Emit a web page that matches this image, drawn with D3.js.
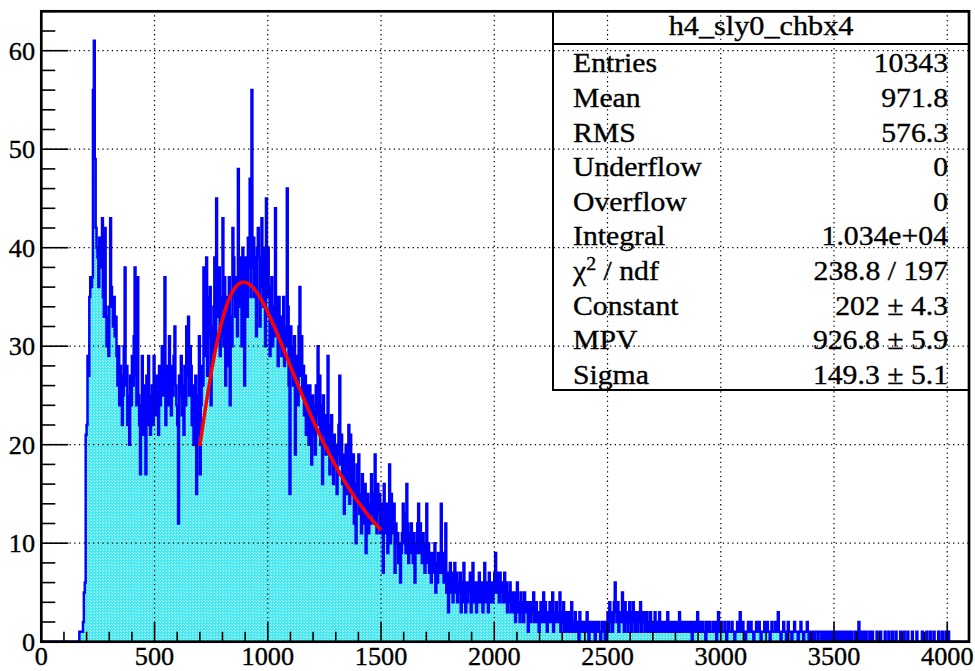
<!DOCTYPE html>
<html><head><meta charset="utf-8">
<script src="https://cdn.jsdelivr.net/npm/d3@7"></script>
<style>body{margin:0;background:#fff} svg{display:block} text{font-family:"Liberation Serif","Times New Roman",serif;fill:#000;stroke:#000;stroke-width:0.35}</style>
</head><body>
<svg id="chart" width="975" height="671"></svg>
<script>
// ---------------- data ----------------
const histTitle = "h4_sly0_chbx4";
const binWidth = 4;
const firstBinLow = 160;          // low edge of counts[0]
const xRange = [0, 4096];
const yRange = [0, 64];
const counts = [
0,0,1,1,1,1,2,5,6,21,
22,29,27,35,37,36,37,56,61,49,
42,40,39,36,41,38,40,43,35,33,
42,34,30,33,29,34,43,36,34,32,
35,31,33,29,26,30,24,28,27,22,
25,30,38,26,28,22,25,20,27,24,
29,26,31,38,27,24,37,25,22,17,
24,29,21,26,23,17,27,22,29,25,
21,24,26,22,29,25,23,27,25,21,
28,24,26,30,25,27,37,22,26,28,
24,31,27,23,28,25,29,32,26,24,
22,12,27,25,29,23,26,21,28,24,
32,27,33,25,30,28,22,26,20,24,
27,15,25,21,31,17,24,28,26,38,
29,33,39,27,35,31,36,24,32,29,
34,39,30,45,36,33,38,29,35,31,
43,30,37,26,33,35,28,37,24,33,
30,42,39,35,33,37,31,48,34,39,
37,30,40,34,26,39,36,33,41,38,
47,35,56,38,41,35,39,31,40,42,
39,32,36,43,38,34,40,30,45,35,
40,36,29,33,37,30,34,31,44,35,
32,28,35,30,33,29,31,35,28,32,
30,46,34,26,15,32,28,30,26,31,
19,27,29,24,32,36,27,31,25,28,
23,27,21,24,26,20,26,22,18,25,
21,24,19,26,23,30,22,27,20,24,
16,25,21,23,19,22,29,20,17,22,
23,19,16,21,18,20,15,19,22,27,
18,21,16,19,13,17,20,15,18,22,
14,21,17,15,19,12,16,10,18,14,
19,13,15,11,17,12,14,16,9,13,
15,11,14,12,17,13,15,12,19,14,
11,16,13,15,11,12,14,7,16,13,
11,14,9,12,18,10,15,13,11,14,
7,12,10,11,8,10,6,9,11,14,
10,13,9,16,12,8,11,9,12,10,
8,11,6,10,9,12,14,9,12,10,
8,11,9,7,10,14,8,10,7,9,
6,9,8,7,10,5,8,6,9,7,
8,14,7,9,6,8,12,5,7,3,
6,8,5,7,4,6,8,5,7,4,
6,5,7,3,6,4,8,5,3,6,
4,6,5,7,3,5,8,4,6,5,
3,6,4,7,5,4,6,3,5,8,
4,6,5,3,7,4,5,6,4,5,
7,9,5,7,6,4,7,5,6,4,
5,7,4,6,3,5,4,6,3,5,
4,3,5,2,4,6,3,4,2,5,
3,4,2,5,3,4,3,1,4,3,
2,4,3,5,2,3,4,2,3,1,
3,4,2,3,5,2,4,3,1,3,
2,4,3,2,5,1,3,2,4,2,
3,2,5,1,3,2,4,1,2,3,
1,2,3,1,2,4,1,2,1,3,
2,1,2,0,3,1,2,1,2,1,
2,1,3,1,0,2,1,2,1,1,
2,0,1,2,1,2,1,0,1,2,
1,2,0,1,2,3,1,4,2,3,
1,2,4,6,3,2,4,1,3,2,
2,5,3,1,4,2,3,1,2,4,
3,1,2,4,2,1,3,2,1,3,
2,4,1,3,2,3,1,2,3,1,
2,1,3,2,1,2,1,3,1,2,
1,2,3,1,2,1,2,1,1,2,
1,3,1,2,1,2,1,2,1,1,
2,1,1,2,3,1,2,1,1,2,
1,2,1,2,1,1,2,1,0,2,
1,1,2,1,3,1,1,2,1,1,
2,1,1,0,2,1,1,2,1,1,
1,2,1,1,2,0,1,3,1,1,
2,1,1,1,2,1,0,1,2,1,
1,1,2,1,1,0,1,1,2,1,
1,3,1,1,2,1,1,0,1,1,
2,1,1,2,1,1,0,1,1,2,
1,1,2,1,0,1,1,1,2,1,
1,2,1,1,0,1,2,1,1,1,
2,1,1,3,1,1,0,1,1,2,
1,1,0,1,2,1,1,1,0,1,
1,2,1,1,1,0,1,1,2,1,
1,0,1,1,1,2,1,0,1,1,
0,1,1,0,1,1,1,0,1,1,
1,0,1,1,0,1,1,0,0,1,
1,0,1,0,1,1,0,0,1,0,
1,0,0,1,0,0,1,0,0,1,
0,1,0,0,1,0,0,0,1,0,
0,1,2,0,1,0,0,1,0,0,
1,0,0,0,1,0,0,1,0,0,
0,0,1,0,0,0,1,0,0,0,
0,1,0,0,0,1,0,0,0,1,
0,0,0,1,0,0,0,0,1,0,
0,0,1,0,0,0,1,0,0,0,
0,1,0,0,0,0,1,0,0,0,
0,0,1,0,0,0,0,1,0,0,
0,1,0,0,0,1,0,0,0,0,
1,0,0,0,1,0,0,0,1,0,
0,1,0,0,0,0,0,0,0,0
];
const xTickValues = [0, 500, 1000, 1500, 2000, 2500, 3000, 3500, 4000];
const yTickValues = [0, 10, 20, 30, 40, 50, 60];
const statLabels = ["Entries", "Mean", "RMS", "Underflow", "Overflow", "Integral", "χ2 / ndf", "Constant", "MPV", "Sigma"];
const statValues = ["10343", "971.8", "576.3", "0", "0", "1.034e+04", "238.8 / 197", "202 ± 4.3", "926.8 ± 5.9", "149.3 ± 5.1"];
const fitConstant = 202, fitMPV = 926.8, fitSigma = 149.3;
const fitRange = [700, 1500];

// ---------------- helpers ----------------
// CERNLIB DENLAN (as in ROOT TMath::Landau)
function denlan(v) {
  const p1=[0.4259894875,-0.1249762550,0.03984243700,-0.006298287635,0.001511162253],
        q1=[1.0,-0.3388260629,0.09594393323,-0.01608042283,0.003778942063],
        p2=[0.1788541609,0.1173957403,0.01488850518,-0.001394989411,0.0001283617211],
        q2=[1.0,0.7428795082,0.3153932961,0.06694219548,0.008790609714],
        p3=[0.1788544503,0.09359161662,0.006325387654,0.00006611667319,-0.000002031049101],
        q3=[1.0,0.6097809921,0.2560616665,0.04746722384,0.006957301675],
        p4=[0.9874054407,118.6723273,849.2794360,-743.7792444,427.0262186],
        q4=[1.0,106.8615961,337.6496214,2016.712389,1597.063511],
        a1=[0.04166666667,-0.01996527778,0.02709538966];
  const poly=(p,t)=>p[0]+(p[1]+(p[2]+(p[3]+p[4]*t)*t)*t)*t;
  if (v < -5.5) { const u=Math.exp(v+1); if(u<1e-10) return 0; return 0.3989422803*(Math.exp(-1/u)/Math.sqrt(u))*(1+(a1[0]+(a1[1]+a1[2]*u)*u)*u); }
  if (v < -1) { const u=Math.exp(-v-1); return Math.exp(-u)*Math.sqrt(u)*poly(p1,v)/poly(q1,v); }
  if (v < 1) return poly(p2,v)/poly(q2,v);
  if (v < 5) return poly(p3,v)/poly(q3,v);
  const u=1/v; return u*u*poly(p4,u)/poly(q4,u);
}

// ---------------- drawing ----------------
const svg = d3.select("#chart");
const x = d3.scaleLinear().domain(xRange).range([41.3, 969]);
const y = d3.scaleLinear().domain(yRange).range([641.7, 11.3]);

const defs = svg.append("defs");
const pat = defs.append("pattern").attr("id","dots").attr("patternUnits","userSpaceOnUse").attr("width",3).attr("height",3);
pat.append("rect").attr("width",3).attr("height",3).attr("fill","#40ecf4").attr("shape-rendering","crispEdges");
pat.append("rect").attr("x",1).attr("y",1).attr("width",1).attr("height",1).attr("fill","#e8ffff").attr("shape-rendering","crispEdges");
pat.append("rect").attr("x",0).attr("y",0).attr("width",1).attr("height",1).attr("fill","#b8fbfd").attr("shape-rendering","crispEdges");

const nBins = (xRange[1]-xRange[0])/binWidth;
const bins = d3.range(nBins).map(i => {
  const lo = xRange[0] + i*binWidth;
  const k = Math.round((lo - firstBinLow)/binWidth);
  return {lo, hi: lo+binWidth, c: (k >= 0 && k < counts.length) ? counts[k] : 0};
});
const steps = bins.flatMap(b => [[b.lo, b.c], [b.hi, b.c]]);

svg.append("path").datum(steps)
  .attr("d", d3.area().x(d => x(d[0])).y0(y(0)).y1(d => y(d[1])))
  .attr("fill", "url(#dots)").attr("stroke", "none");

svg.append("path").datum(steps)
  .attr("d", d3.line().x(d => x(d[0])).y(d => y(d[1])))
  .attr("fill", "none").attr("stroke", "#0000ff").attr("stroke-width", 2.5).attr("stroke-linejoin","miter");

// grid
const grid = svg.append("g").attr("stroke", "#000").attr("stroke-width", 1.2).attr("stroke-dasharray", "1.3,3.4");
grid.selectAll(".gx").data(xTickValues.filter(v => v > 0)).enter().append("line")
  .attr("x1", d => x(d)).attr("x2", d => x(d)).attr("y1", y(0)).attr("y2", y(yRange[1]));
grid.selectAll(".gy").data(yTickValues.filter(v => v > 0)).enter().append("line")
  .attr("y1", d => y(d)).attr("y2", d => y(d)).attr("x1", x(0)).attr("x2", x(xRange[1]));

// fit
const fitPts = d3.range(fitRange[0], fitRange[1] + 0.001, 4).map(v => [v, fitConstant * denlan((v - fitMPV)/fitSigma)]);
svg.append("path").datum(fitPts)
  .attr("d", d3.line().x(d => x(d[0])).y(d => y(d[1])))
  .attr("fill","none").attr("stroke","#ff0000").attr("stroke-width",3.5);

// ticks
const ticks = svg.append("g").attr("stroke","#000").attr("stroke-width",1.6);
const xMinor = d3.range(xRange[0], xRange[1], 100);
ticks.selectAll(".tx").data(xMinor).enter().append("line")
  .attr("x1", d => x(d)).attr("x2", d => x(d)).attr("y1", y(0))
  .attr("y2", d => y(0) - (d % 500 === 0 ? 20 : 10));
const yMinor = d3.range(yRange[0], yRange[1] + 0.001, 2);
ticks.selectAll(".ty").data(yMinor).enter().append("line")
  .attr("y1", d => y(d)).attr("y2", d => y(d)).attr("x1", x(0))
  .attr("x2", d => x(0) + (d % 10 === 0 ? 27 : 14));

// frame
svg.append("rect").attr("x", x(0)).attr("y", y(yRange[1])).attr("width", x(xRange[1]) - x(0)).attr("height", y(0) - y(yRange[1]))
  .attr("fill","none").attr("stroke","#000").attr("stroke-width",2.7);

// tick labels
svg.selectAll(".xl").data(xTickValues).enter().append("text")
  .attr("transform", d => `translate(${x(d)},665) scale(1.05,1)`).attr("text-anchor","middle")
  .attr("font-size", 25).text(d => d);
svg.selectAll(".yl").data(yTickValues).enter().append("text")
  .attr("transform", d => `translate(35,${y(d) + 9}) scale(1.05,1)`).attr("text-anchor","end")
  .attr("font-size", 25).text(d => d);

// stat box
const bx0 = 553, bx1 = x(xRange[1]), by0 = y(yRange[1]), by1 = 390, byT = 44;
svg.append("rect").attr("x", bx0).attr("y", by0).attr("width", bx1 - bx0).attr("height", by1 - by0)
  .attr("fill","none").attr("stroke","#000").attr("stroke-width",2);
svg.append("line").attr("x1", bx0).attr("x2", bx1).attr("y1", byT).attr("y2", byT).attr("stroke","#000").attr("stroke-width",2);
svg.append("text").attr("transform", `translate(${(bx0 + bx1)/2},35) scale(1.08,1)`).attr("text-anchor","middle")
  .attr("font-size", 28).text(histTitle);
const rowH = (by1 - byT) / statLabels.length;
statLabels.forEach((lab, i) => {
  const yy = byT + rowH*(i + 0.5) + 11;
  const t = svg.append("text").attr("transform", `translate(573,${yy}) scale(1.1,1)`).attr("font-size", 27);
  if (lab.startsWith("χ2")) {
    t.append("tspan").text("χ");
    t.append("tspan").attr("dy", -10).attr("font-size", 18).text("2");
    t.append("tspan").attr("dy", 10).text(" / ndf");
  } else t.text(lab);
  svg.append("text").attr("transform", `translate(948,${yy}) scale(1.1,1)`).attr("text-anchor","end")
    .attr("font-size", 27).text(statValues[i]);
});
</script>
</body></html>
